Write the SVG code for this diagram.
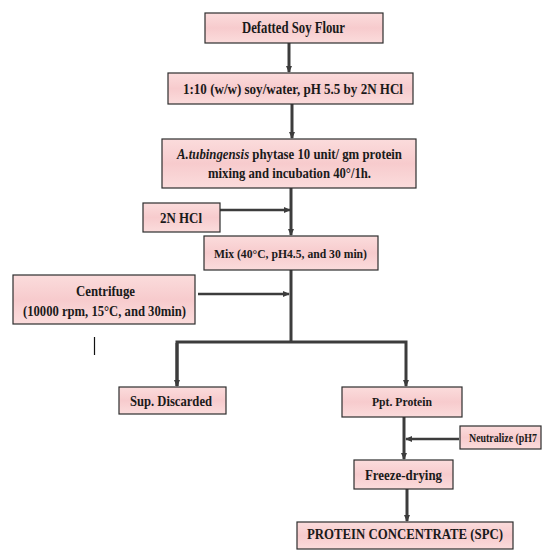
<svg xmlns="http://www.w3.org/2000/svg" width="542" height="550" viewBox="0 0 542 550">
  <defs>
    <linearGradient id="boxFill" x1="0" y1="0" x2="0" y2="1">
      <stop offset="0" stop-color="#fbdcdc"/>
      <stop offset="0.5" stop-color="#f7cbcd"/>
      <stop offset="1" stop-color="#fbdcdc"/>
    </linearGradient>
    <marker id="head" viewBox="0 0 8 8" refX="7" refY="4" markerWidth="7" markerHeight="7" markerUnits="userSpaceOnUse" orient="auto">
      <path d="M0,0.5 L8,4 L0,7.5 z" fill="#3c3c3c"/>
    </marker>
  </defs>
  <style>
    .box { fill: url(#boxFill); stroke: #2e2e2e; stroke-width: 1.2; }
    .lbl { font-family: "Liberation Serif", "Times New Roman", serif; font-weight: bold; fill: #1a1a1a; text-anchor: middle; }
    .conn { stroke: #3c3c3c; stroke-width: 3; fill: none; }
    .thin { stroke-width: 2.4; }
  </style>
  <rect width="542" height="550" fill="#ffffff"/>

  <g id="connectors">
    <line class="conn" x1="289" y1="43" x2="289" y2="72" marker-end="url(#head)"/>
    <line class="conn" x1="292" y1="104" x2="292" y2="138" marker-end="url(#head)"/>
    <line class="conn" x1="291" y1="188" x2="291" y2="235" marker-end="url(#head)"/>
    <line class="conn thin" x1="220" y1="210" x2="290" y2="210" marker-end="url(#head)"/>
    <line class="conn" x1="291" y1="270" x2="291" y2="342"/>
    <line class="conn thin" x1="198" y1="294" x2="289" y2="294" marker-end="url(#head)"/>
    <polyline class="conn" points="177,386 177,342 406,342 406,386" marker-end="url(#head)"/>
    <line class="conn" x1="177" y1="343" x2="177" y2="386" marker-end="url(#head)"/>
    <line class="conn" x1="404" y1="417" x2="404" y2="459" marker-end="url(#head)"/>
    <line class="conn thin" x1="459" y1="439" x2="406" y2="439" marker-end="url(#head)"/>
    <line class="conn" x1="407" y1="489" x2="407" y2="521" marker-end="url(#head)"/>
  </g>

  <g id="defatted">
    <rect class="box" x="205" y="13" width="178" height="30"/>
    <text class="lbl" x="293.5" y="33" font-size="16" textLength="103" lengthAdjust="spacingAndGlyphs">Defatted Soy Flour</text>
  </g>

  <g id="slurry">
    <rect class="box" x="168" y="73" width="245" height="31"/>
    <text class="lbl" x="293" y="94" font-size="15" textLength="220" lengthAdjust="spacingAndGlyphs">1:10 (w/w) soy/water, pH 5.5 by 2N HCl</text>
  </g>

  <g id="phytase">
    <rect class="box" x="162" y="139" width="254" height="49"/>
    <text class="lbl" x="289.5" y="159" font-size="14" textLength="225" lengthAdjust="spacingAndGlyphs"><tspan font-style="italic">A.tubingensis</tspan> phytase 10 unit/ gm protein</text>
    <text class="lbl" x="289.5" y="178" font-size="14" textLength="163" lengthAdjust="spacingAndGlyphs">mixing and incubation 40°/1h.</text>
  </g>

  <g id="hcl">
    <rect class="box" x="143" y="203" width="77" height="29"/>
    <text class="lbl" x="181" y="223" font-size="14" textLength="42" lengthAdjust="spacingAndGlyphs">2N HCl</text>
  </g>

  <g id="mix">
    <rect class="box" x="204" y="236" width="174" height="34"/>
    <text class="lbl" x="290.5" y="258" font-size="13.5" textLength="153" lengthAdjust="spacingAndGlyphs">Mix (40°C, pH4.5, and 30 min)</text>
  </g>

  <g id="centrifuge">
    <rect class="box" x="13" y="275" width="182" height="49"/>
    <text class="lbl" x="105.5" y="296" font-size="15" textLength="59" lengthAdjust="spacingAndGlyphs">Centrifuge</text>
    <text class="lbl" x="104.5" y="316" font-size="15" textLength="163" lengthAdjust="spacingAndGlyphs">(10000 rpm, 15°C, and 30min)</text>
  </g>

  <line x1="94.5" y1="337" x2="94.5" y2="355" stroke="#111111" stroke-width="1.2"/>

  <g id="supernatant">
    <rect class="box" x="119" y="387" width="107" height="27"/>
    <text class="lbl" x="171" y="406" font-size="15" textLength="82" lengthAdjust="spacingAndGlyphs">Sup. Discarded</text>
  </g>

  <g id="precipitate">
    <rect class="box" x="342" y="387" width="120" height="30"/>
    <text class="lbl" x="402" y="406" font-size="13.5" textLength="60" lengthAdjust="spacingAndGlyphs">Ppt. Protein</text>
  </g>

  <g id="neutralize">
    <rect class="box" x="460" y="426" width="81" height="23"/>
    <text class="lbl" x="469" y="442" font-size="12" style="text-anchor:start" textLength="68" lengthAdjust="spacingAndGlyphs">Neutralize (pH7</text>
  </g>

  <g id="freeze">
    <rect class="box" x="354" y="460" width="99" height="29"/>
    <text class="lbl" x="403.5" y="480" font-size="15" textLength="77" lengthAdjust="spacingAndGlyphs">Freeze-drying</text>
  </g>

  <g id="concentrate">
    <rect class="box" x="297" y="522" width="216" height="27"/>
    <text class="lbl" x="405" y="539" font-size="15" textLength="196" lengthAdjust="spacingAndGlyphs">PROTEIN CONCENTRATE (SPC)</text>
  </g>
</svg>
